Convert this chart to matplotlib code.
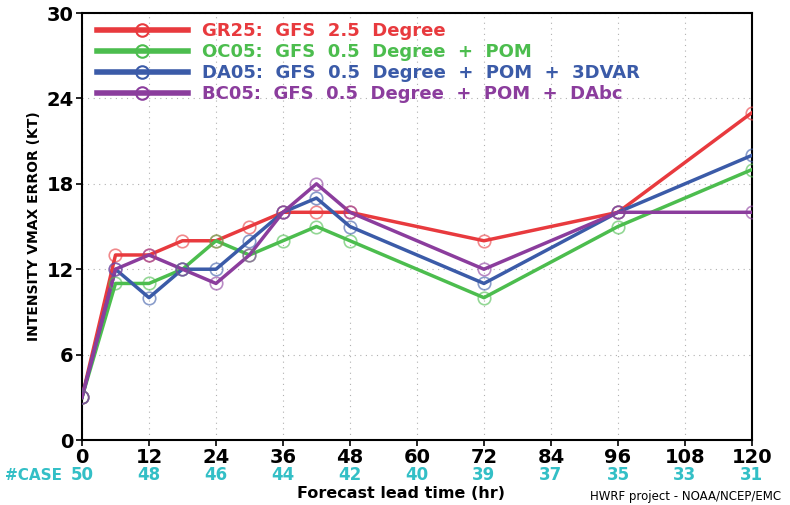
import matplotlib
matplotlib.use('Agg')
import matplotlib.pyplot as plt
from matplotlib.lines import Line2D

# forecast hours and mean intensity errors (kt)
hours = [0, 6, 12, 18, 24, 30, 36, 42, 48, 72, 96, 120]
gr25 = [3, 13, 13, 14, 14, 15, 16, 16, 16, 14, 16, 23]
oc05 = [3, 11, 11, 12, 14, 13, 14, 15, 14, 10, 15, 19]
da05 = [3, 12, 10, 12, 12, 14, 16, 17, 15, 11, 16, 20]
bc05 = [3, 12, 13, 12, 11, 13, 16, 18, 16, 12, 16, 16]

labels = ['GR25:  GFS  2.5  Degree',
          'OC05:  GFS  0.5  Degree  +  POM',
          'DA05:  GFS  0.5  Degree  +  POM  +  3DVAR',
          'BC05:  GFS  0.5  Degree  +  POM  +  DAbc']
colors = ['#e83a3e', '#4cbd4e', '#3b5ba8', '#8b3d9d']

case_hours = [0, 12, 24, 36, 48, 60, 72, 84, 96, 108, 120]
cases = [50, 48, 46, 44, 42, 40, 39, 37, 35, 33, 31]

fig = plt.figure(figsize=(7.9, 5.05), dpi=100)
ax = fig.add_axes([0.1038, 0.1287, 0.848, 0.8455])

for ys, c in zip([gr25, oc05, da05, bc05], colors):
    ax.plot(hours, ys, color=c, lw=2.5, zorder=3)
    ax.plot(hours, ys, ls='none', marker='o', ms=9, mfc='none',
            mec=c, mew=1.2, alpha=0.6, zorder=4)

ax.set_xlim(0, 120)
ax.set_ylim(0, 30)
ax.set_xticks(range(0, 121, 12))
ax.set_yticks(range(0, 31, 6))
ax.grid(True, ls=(0, (1, 4)), color='#b0b0b0', lw=0.8)
for s in ax.spines.values():
    s.set_linewidth(1.5)
ax.tick_params(direction='out', length=4, width=1.2, labelsize=14, pad=2)
for t in ax.get_xticklabels() + ax.get_yticklabels():
    t.set_fontweight('bold')

ax.set_ylabel('INTENSITY VMAX ERROR (KT)', fontsize=10, fontweight='bold',
              labelpad=4)

# number of verified cases under each tick
for h, n in zip(case_hours, cases):
    ax.text(h, -0.083, str(n), transform=ax.get_xaxis_transform(),
            ha='center', va='center', color='#33bfc6', fontsize=12,
            fontweight='bold')
ax.text(-3.6, -0.083, '#CASE', transform=ax.get_xaxis_transform(),
        ha='right', va='center', color='#33bfc6', fontsize=11,
        fontweight='bold')

fig.text(0.507, 0.022, 'Forecast lead time (hr)', ha='center', va='center',
         fontsize=11.5, fontweight='bold')
fig.text(0.868, 0.016, 'HWRF project - NOAA/NCEP/EMC', ha='center',
         va='center', fontsize=8.5)

handles = [Line2D([0], [0], color=c, lw=4, marker='o', ms=9, mfc='none',
                  mec=c, mew=1.5) for c in colors]
leg = ax.legend(handles, labels, loc='upper left',
                bbox_to_anchor=(0.012, 0.995), frameon=False, fontsize=13,
                handlelength=5.0, handletextpad=0.8, labelspacing=0.16,
                borderaxespad=0.0)
for txt, c in zip(leg.get_texts(), colors):
    txt.set_color(c)
    txt.set_fontweight('bold')

fig.savefig('out.png', dpi=100)
